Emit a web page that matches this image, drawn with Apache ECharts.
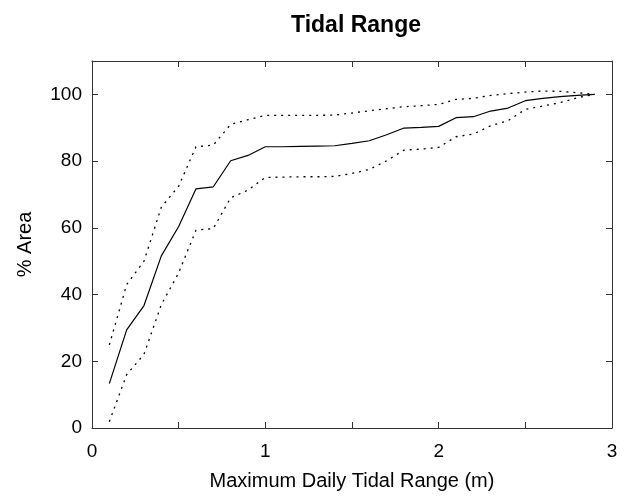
<!DOCTYPE html>
<html>
<head>
<meta charset="utf-8">
<script src="https://cdn.jsdelivr.net/npm/echarts@6/dist/echarts.min.js"></script>
<style>
  html, body { margin: 0; padding: 0; background: #fff; }
  #chart { width: 629px; height: 498px; }
</style>
</head>
<body>
<div id="chart"></div>
<script>
// Maximum daily tidal range (m)
const tidalRange = [0.1, 0.2, 0.3, 0.4, 0.5, 0.6, 0.7, 0.8, 0.9, 1.0,
                    1.1, 1.2, 1.3, 1.4, 1.5, 1.6, 1.7, 1.8, 1.9, 2.0,
                    2.1, 2.2, 2.3, 2.4, 2.5, 2.6, 2.7, 2.8, 2.9];
// Cumulative % area (central estimate)
const areaMid = [13.3, 29.4, 36.7, 51.6, 60.4, 71.7, 72.3, 80.1, 81.7, 84.3,
                 84.3, 84.4, 84.5, 84.6, 85.3, 86.1, 87.9, 89.9, 90.1, 90.4,
                 93.0, 93.3, 95.0, 95.9, 98.1, 98.8, 99.3, 99.7, 100];
// Upper bound
const areaUpper = [24.9, 43.0, 50.0, 66.2, 72.5, 84.3, 84.8, 91.0, 92.4, 93.7,
                   93.7, 93.7, 93.7, 93.8, 94.4, 95.1, 95.7, 96.3, 96.6, 97.0,
                   98.5, 98.8, 99.7, 100.2, 100.7, 101.0, 100.9, 100.5, 100];
// Lower bound
const areaLower = [1.9, 16.0, 22.1, 37.0, 46.5, 59.3, 59.8, 69.0, 71.3, 75.1,
                   75.2, 75.3, 75.3, 75.4, 76.3, 77.5, 80.1, 83.3, 83.6, 84.1,
                   87.3, 88.1, 90.6, 92.1, 95.5, 96.5, 97.5, 99.0, 100];

const xTickLabels = ['0', '1', '2', '3'];
const yTickLabels = ['0', '20', '40', '60', '80', '100'];

const FONT = 'Liberation Sans, Arial, Helvetica, sans-serif';
const INK = '#000';
const FRAME = '#333';

function pairs(ys) {
  return tidalRange.map((x, i) => [x, ys[i]]);
}

const chart = echarts.init(document.getElementById('chart'), null, { renderer: 'canvas' });

const tickStyle = { show: true, inside: true, length: 6, lineStyle: { color: FRAME, width: 1 } };
const lineAxis = { show: true, onZero: false, lineStyle: { color: FRAME, width: 1 } };
const dotted = { color: INK, width: 1.3, type: [2, 5] };

chart.setOption({
  animation: false,
  backgroundColor: '#fff',
  title: {
    text: 'Tidal Range',
    left: 351,
    top: 9,
    textAlign: 'center',
    textStyle: { fontFamily: FONT, fontSize: 23, fontWeight: 'bold', color: INK }
  },
  grid: { left: 92, right: 17, top: 61, bottom: 70, show: false },
  xAxis: [
    {
      type: 'value', position: 'bottom', min: 0, max: 3, interval: 0.5,
      axisLine: lineAxis, axisTick: tickStyle, splitLine: { show: false },
      axisLabel: {
        margin: 14, fontFamily: FONT, fontSize: 19, color: INK,
        formatter: v => (Number.isInteger(v) ? xTickLabels[v] : '')
      },
      name: 'Maximum Daily Tidal Range (m)', nameLocation: 'middle', nameGap: 43,
      nameTextStyle: { fontFamily: FONT, fontSize: 20, color: INK }
    },
    {
      type: 'value', position: 'top', min: 0, max: 3, interval: 0.5,
      axisLine: lineAxis, axisTick: tickStyle, splitLine: { show: false },
      axisLabel: { show: false }
    }
  ],
  yAxis: [
    {
      type: 'value', position: 'left', min: 0, max: 110, interval: 20,
      axisLine: lineAxis, axisTick: tickStyle, splitLine: { show: false },
      axisLabel: {
        margin: 10, fontFamily: FONT, fontSize: 19, color: INK,
        showMaxLabel: false,
        formatter: v => (v % 20 === 0 && v <= 100 ? yTickLabels[v / 20] : '')
      },
      name: '% Area', nameLocation: 'middle', nameGap: 57, nameRotate: 90,
      nameTextStyle: { fontFamily: FONT, fontSize: 20, color: INK }
    },
    {
      type: 'value', position: 'right', min: 0, max: 110, interval: 20,
      axisLine: lineAxis, axisTick: tickStyle, splitLine: { show: false },
      axisLabel: { show: false }
    }
  ],
  series: [
    {
      name: 'Upper', type: 'line', data: pairs(areaUpper), showSymbol: false,
      lineStyle: dotted
    },
    {
      name: 'Lower', type: 'line', data: pairs(areaLower), showSymbol: false,
      lineStyle: dotted
    },
    {
      name: 'Area', type: 'line', data: pairs(areaMid), showSymbol: false,
      lineStyle: { color: INK, width: 1.2, type: 'solid' }
    }
  ]
});
</script>
</body>
</html>
